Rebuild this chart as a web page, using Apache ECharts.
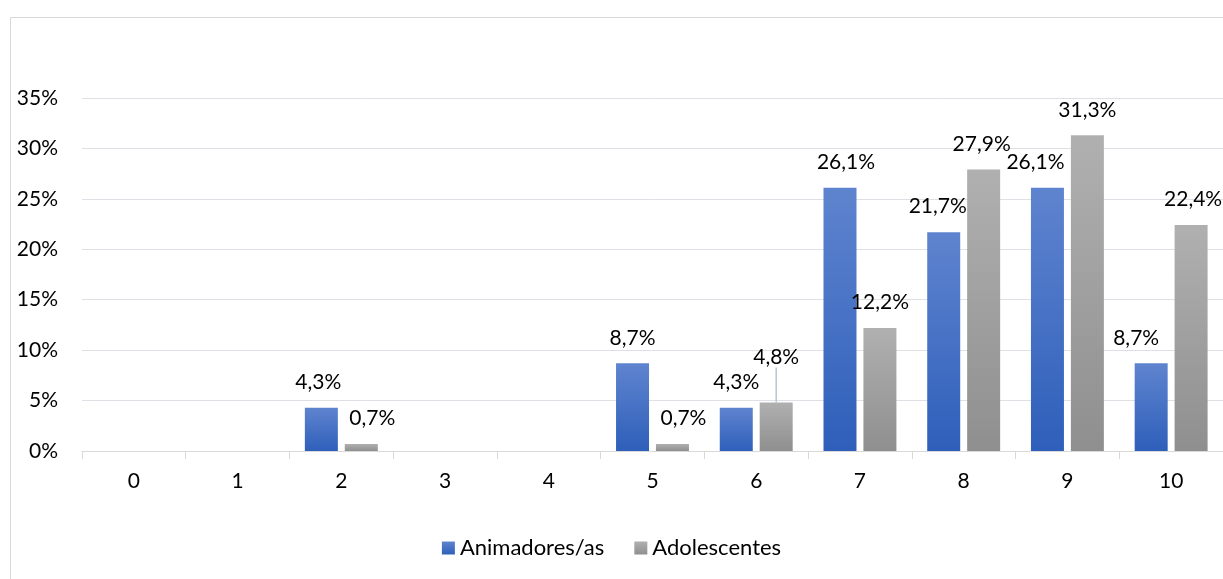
<!DOCTYPE html>
<html><head><meta charset="utf-8">
<script src="https://cdn.jsdelivr.net/npm/echarts@6/dist/echarts.min.js"></script>
<style>html,body{margin:0;padding:0;background:#fff}#c{width:1223px;height:579px}</style>
</head><body><div id="c"></div>
<script>
const categories = ['0','1','2','3','4','5','6','7','8','9','10'];
const animadores = [0,0,4.3,0,0,8.7,4.3,26.1,21.7,26.1,8.7];
const adolescentes = [0,0,0.7,0,0,0.7,4.8,12.2,27.9,31.3,22.4];
const yTicks = [0,5,10,15,20,25,30,35];
const seriesNames = ['Animadores/as','Adolescentes'];

const FONT = 'Lato';
const FS = 21;
const fmt = v => v.toFixed(1).replace('.', ',') + '%';
const blueGrad = new echarts.graphic.LinearGradient(0,0,0,1,[{offset:0,color:'#5f84cf'},{offset:1,color:'#2e5fba'}]);
const grayGrad = new echarts.graphic.LinearGradient(0,0,0,1,[{offset:0,color:'#b0b0b0'},{offset:1,color:'#8f8f8f'}]);
// label horizontal nudges (Excel-style overlap avoidance)
const blueDx = [0,0,-3,0,0,0,0,6,-6,-12,-15];
const grayDx = [0,0,11,0,0,11,0,0,-2,0,2];

function mk(vals, lineIdx){
  return vals.map((v,i)=>({value:v, label:{show:v>0}, labelLine:{show:i===lineIdx}}));
}
const chart = echarts.init(document.getElementById('c'));
chart.setOption({
  animation:false,
  textStyle:{fontFamily:FONT},
  graphic:[{type:'rect',left:8,top:15,shape:{width:1260,height:620},style:{fill:'none',stroke:'#d9d9d9',lineWidth:1},silent:true}],
  grid:{left:82,top:98,width:1147,height:353,containLabel:false},
  legend:{bottom:15,left:'center',itemWidth:13,itemHeight:13,itemGap:30,icon:'rect',
    textStyle:{fontFamily:FONT,fontSize:22,color:'#000'},data:seriesNames},
  xAxis:{type:'category',data:categories,
    axisLine:{lineStyle:{color:'#d9d9d9'}},
    axisTick:{show:true,length:8,lineStyle:{color:'#d9d9d9'}},
    axisLabel:{fontSize:FS,color:'#000',margin:20,fontFamily:FONT}},
  yAxis:{type:'value',min:0,max:35,interval:5,
    axisLine:{show:false},axisTick:{show:false},
    splitLine:{lineStyle:{color:'#dde1e6'}},
    axisLabel:{fontSize:FS,color:'#000',margin:24,fontFamily:FONT,formatter:v=>yTicks.includes(v)?v+'%':''}},
  series:[
    {name:seriesNames[0],type:'bar',data:mk(animadores,-1),barWidth:33,barGap:'21%',
     itemStyle:{color:blueGrad},
     label:{position:'top',distance:15,fontSize:FS,color:'#000',fontFamily:FONT,formatter:p=>fmt(p.value)},
     labelLine:{show:false},
     labelLayout:p=>({dx:blueDx[p.dataIndex]})},
    {name:seriesNames[1],type:'bar',data:mk(adolescentes,6),barWidth:33,
     itemStyle:{color:grayGrad},
     label:{position:'top',distance:15,fontSize:FS,color:'#000',fontFamily:FONT,formatter:p=>fmt(p.value)},
     labelLine:{show:false,lineStyle:{color:'#b8c4d3',width:1.5}},
     labelLayout:p=>({dx:grayDx[p.dataIndex], dy:p.dataIndex===6?-20:0})}
  ]
});
</script></body></html>
